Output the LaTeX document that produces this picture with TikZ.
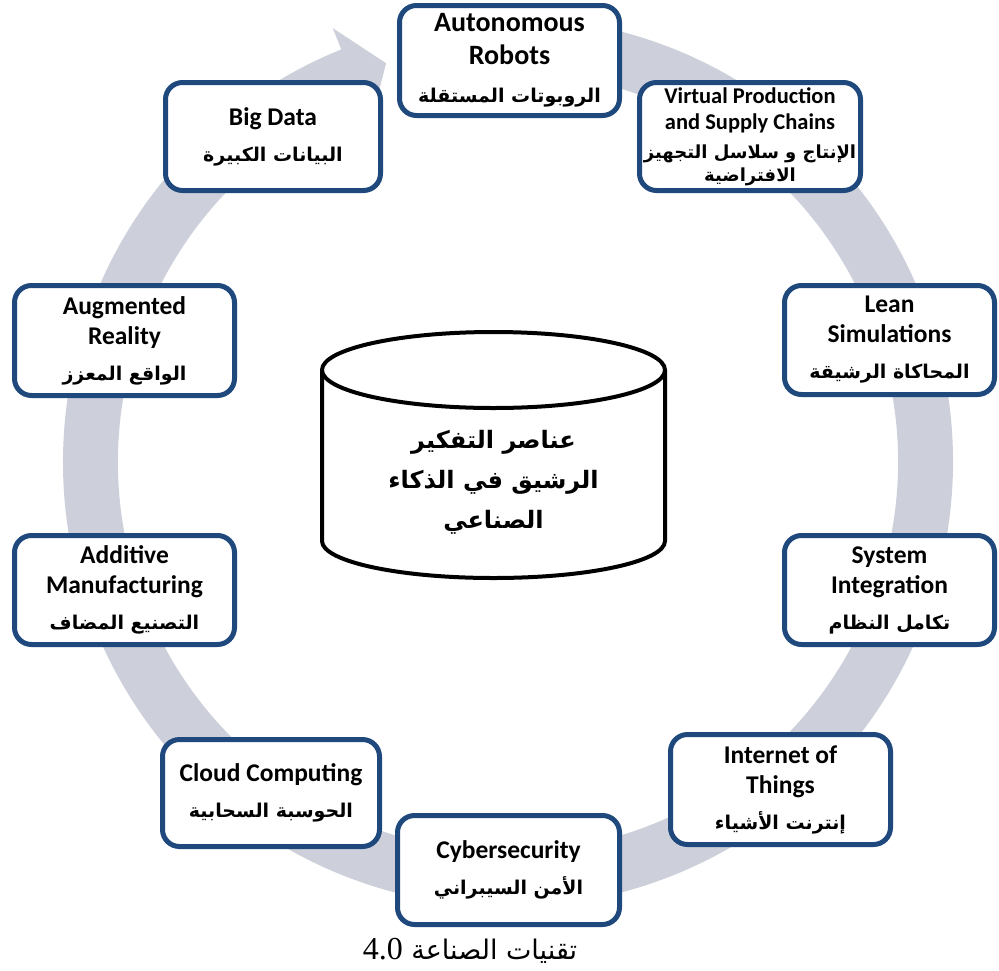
\documentclass[tikz,border=0pt]{standalone}
\usepackage{fontspec}
\newfontfamily\engfont{Carlito}
\newfontfamily\arabicfont[Script=Arabic]{DejaVu Sans}
\newfontfamily\numfont{Liberation Serif}
\TeXXeTstate=1
\definecolor{boxblue}{RGB}{31,73,125}
\definecolor{ringgray}{RGB}{205,208,218}
\newcommand\artxt[1]{{\arabicfont\bfseries\fontsize{19}{23}\selectfont\beginR #1\endR}}
\begin{document}
\begin{tikzpicture}[x=1pt,y=-1pt,
  techbox/.style={draw=boxblue, line width=5pt, rounded corners=17pt, fill=white,
    align=center, inner sep=0pt, font={\engfont\bfseries\fontsize{25.5}{30}\selectfont}},
  cyl/.style={draw=black, line width=4pt, fill=white}]
\useasboundingbox (0,0) rectangle (999,970);
% circular arrow
\fill[ringgray] ([shift={(508,462)}]85:445pt) arc[start angle=85, end angle=-248, radius=445pt]
  -- ([shift={(508,462)}]-248:468pt) -- ([shift={(508,462)}]-253:417pt)
  -- ([shift={(508,462)}]-248:366pt) -- ([shift={(508,462)}]-248:390pt)
  arc[start angle=-248, end angle=85, radius=390pt] -- cycle;
% cylinder
\draw[cyl] (322,370) -- (322,541) arc[start angle=180, end angle=360, x radius=171.5pt, y radius=37pt] -- (665,370);
\draw[cyl] (493.5,370) ellipse [x radius=171.5pt, y radius=38pt];
\node[align=center, font={\arabicfont\bfseries\fontsize{24}{40}\selectfont}] (core) at (493.5,482)
  {\beginR عناصر التفكير\endR\\\beginR الرشيق في الذكاء\endR\\\beginR الصناعي\endR};
% boxes
\node[techbox, minimum width=220pt, minimum height=110pt, font={\engfont\bfseries\fontsize{28}{33}\selectfont}] (auto) at (509.5,60.5)
  {Autonomous\\Robots\\[5pt]\artxt{الروبوتات المستقلة}};
\node[techbox, minimum width=221pt, minimum height=108pt, font={\engfont\bfseries\fontsize{22.5}{26}\selectfont}] (virt) at (750,136.5)
  {Virtual Production\\and Supply Chains\\[3pt]{\arabicfont\bfseries\fontsize{18}{21}\selectfont\beginR الإنتاج و سلاسل التجهيز\endR}\\[-3pt]{\arabicfont\bfseries\fontsize{18}{21}\selectfont\beginR الافتراضية\endR}};
\node[techbox, minimum width=215pt, minimum height=108pt] (big) at (273,136.5)
  {Big Data\\[6pt]\artxt{البيانات الكبيرة}};
\node[techbox, minimum width=210pt, minimum height=109pt] (lean) at (889.5,340)
  {Lean\\Simulations\\[6pt]\artxt{المحاكاة الرشيقة}};
\node[techbox, minimum width=210pt, minimum height=109pt] (sys) at (889.5,590)
  {System\\Integration\\[6pt]\artxt{تكامل النظام}};
\node[techbox, minimum width=220pt, minimum height=110pt] (ar) at (124.5,340.5)
  {Augmented\\Reality\\[6pt]\artxt{الواقع المعزز}};
\node[techbox, minimum width=220pt, minimum height=109pt] (am) at (124.5,590)
  {Additive\\Manufacturing\\[6pt]\artxt{التصنيع المضاف}};
\node[techbox, minimum width=217pt, minimum height=107pt] (cloud) at (271,793)
  {Cloud Computing\\[6pt]\artxt{الحوسبة السحابية}};
\node[techbox, minimum width=222pt, minimum height=109pt] (cyber) at (508.5,870)
  {Cybersecurity\\[6pt]\artxt{الأمن السيبراني}};
\node[techbox, minimum width=220pt, minimum height=110pt] (iot) at (780.5,789.5)
  {Internet of\\Things\\[6pt]\artxt{إنترنت الأشياء}};
% caption
\node[font={\arabicfont\fontsize{27}{30}\selectfont}] (caption) at (470,951)
  {\beginR تقنيات الصناعة \beginL{\numfont\fontsize{32}{34}\selectfont 4.0}\endL\endR};
\end{tikzpicture}
\end{document}
